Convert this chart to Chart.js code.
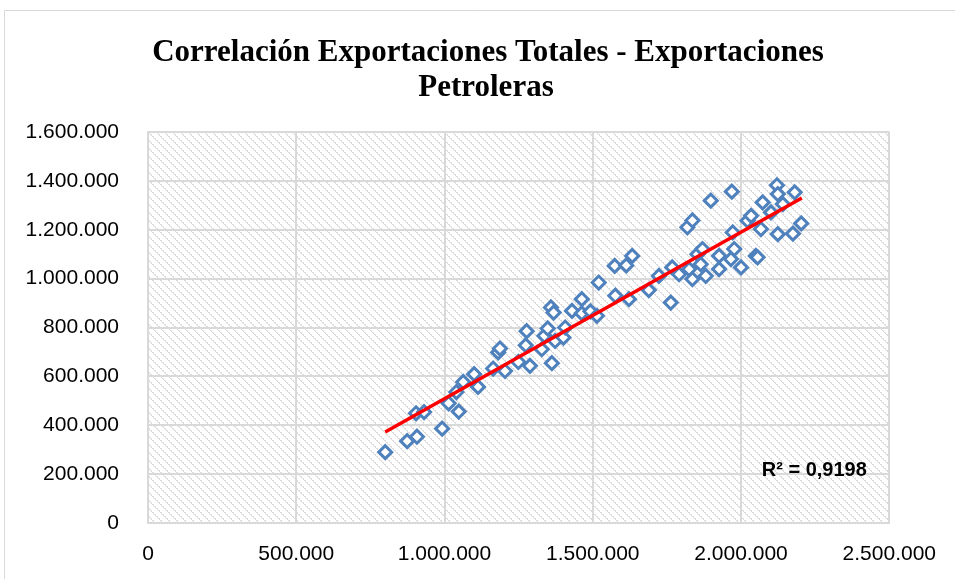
<!DOCTYPE html>
<html lang="es">
<head>
<meta charset="utf-8">
<title>Correlación Exportaciones Totales - Exportaciones Petroleras</title>
<script src="https://cdn.jsdelivr.net/npm/chart.js@4.4.1/dist/chart.umd.min.js"></script>
<style>
    html, body { margin: 0; padding: 0; background: #fff; overflow: hidden; }
    #wrap { position: absolute; left: 0; top: 0; width: 955px; height: 579px; }
</style>
</head>
<body>
<div id="wrap"><canvas id="chartCorr" width="955" height="579"></canvas></div>
<script>
// -------------------------------------------------------
// Data
// -------------------------------------------------------
const TITLE_LINES = ['Correlación Exportaciones Totales - Exportaciones', 'Petroleras'];
const R2_LABEL = 'R² = 0,9198';

// Exportaciones Totales (x)
const exportTotales = [
    800000, 874000, 907000, 992000, 904000, 931000, 1014000, 1048000, 1040000, 1063000,
    1100000, 1113000, 1164000, 1181000, 1187000, 1204000, 1249000, 1274000, 1277000, 1288000,
    1328000, 1337000, 1348000, 1359000, 1368000, 1362000, 1373000, 1401000, 1407000, 1430000,
    1463000, 1463000, 1492000, 1520000, 1514000, 1576000, 1574000, 1613000, 1633000, 1622000,
    1689000, 1723000, 1763000, 1768000, 1791000, 1819000, 1836000, 1825000, 1836000, 1853000,
    1864000, 1898000, 1969000, 1870000, 1926000, 1926000, 1881000, 1972000, 1977000, 1966000,
    2000000, 2022000, 2034000, 2050000, 2056000, 2067000, 2073000, 2101000, 2124000, 2121000,
    2124000, 2141000, 2181000, 2175000, 2203000
];

// Exportaciones Petroleras (y)
const exportPetroleras = [
    290000, 335000, 353000, 386000, 449000, 454000, 490000, 456000, 536000, 577000,
    609000, 557000, 632000, 698000, 714000, 622000, 659000, 727000, 785000, 643000,
    711000, 766000, 796000, 882000, 861000, 654000, 745000, 759000, 800000, 868000,
    916000, 858000, 866000, 984000, 848000, 930000, 1052000, 1054000, 1093000, 916000,
    953000, 1011000, 902000, 1046000, 1018000, 1210000, 1238000, 1039000, 998000, 1100000,
    1059000, 1319000, 1356000, 1121000, 1093000, 1039000, 1011000, 1189000, 1121000, 1080000,
    1046000, 1237000, 1257000, 1093000, 1087000, 1203000, 1312000, 1271000, 1182000, 1382000,
    1346000, 1305000, 1353000, 1184000, 1226000
];

// Linear trendline end points
const trendX = [800000, 2205000];
const trendY = [372000, 1330000];

// Axis ranges
const xAxis = { min: 0, max: 2500000, step: 500000 };
const yAxis = { min: 0, max: 1600000, step: 200000 };

// -------------------------------------------------------
// Helpers
// -------------------------------------------------------
const GRID = '#d9d9d9';
const fmt = v => String(Math.round(v)).replace(/\B(?=(\d{3})+(?!\d))/g, '.');

function hatchPattern(ctx) {
    const tile = document.createElement('canvas');
    tile.width = 8; tile.height = 8;
    const t = tile.getContext('2d');
    t.fillStyle = '#ffffff';
    t.fillRect(0, 0, 8, 8);
    t.fillStyle = '#dcdcdc';
    for (let y = 0; y < 8; y++) {
        for (let x = 0; x < 8; x++) {
            const d = (x - y + 16) % 8;
            if (d === 0 || (d === 1 && y % 2 === 0)) t.fillRect(x, y, 1, 1);
        }
    }
    return ctx.createPattern(tile, 'repeat');
}

// background, frame, title and R² label
const decorPlugin = {
    id: 'decor',
    beforeDraw(chart) {
        const { ctx, chartArea: a } = chart;
        ctx.save();
        ctx.fillStyle = '#fff';
        ctx.fillRect(0, 0, chart.width, chart.height);
        ctx.strokeStyle = GRID;
        ctx.lineWidth = 1;
        ctx.beginPath();
        ctx.moveTo(4.5, chart.height);
        ctx.lineTo(4.5, 10.5);
        ctx.lineTo(chart.width, 10.5);
        ctx.stroke();
        ctx.fillStyle = hatchPattern(ctx);
        ctx.fillRect(a.left, a.top, a.right - a.left, a.bottom - a.top);
        ctx.restore();
    },
    afterDraw(chart) {
        const { ctx, chartArea: a } = chart;
        ctx.save();
        ctx.fillStyle = '#000';
        ctx.textAlign = 'center';
        ctx.textBaseline = 'alphabetic';
        ctx.font = 'bold 31px "Liberation Serif", serif';
        ctx.fillText(TITLE_LINES[0], 488, 61);
        ctx.fillText(TITLE_LINES[1], 486, 96);
        ctx.font = 'bold 20px "Liberation Sans", Arial, sans-serif';
        ctx.textBaseline = 'middle';
        ctx.fillText(R2_LABEL, a.right - 75, 470);
        ctx.restore();
    }
};

// -------------------------------------------------------
// Chart
// -------------------------------------------------------
const points = exportTotales.map((x, i) => ({ x, y: exportPetroleras[i] }));
const trend = trendX.map((x, i) => ({ x, y: trendY[i] }));

const tickFont = { family: '"Liberation Sans", Arial, sans-serif', size: 21 };

new Chart(document.getElementById('chartCorr').getContext('2d'), {
    type: 'scatter',
    data: {
        datasets: [
            {
                label: 'Tendencia',
                data: trend,
                showLine: true,
                borderColor: '#ff0000',
                borderWidth: 3.5,
                pointRadius: 0,
                fill: false,
                order: 0
            },
            {
                label: 'Exportaciones',
                data: points,
                pointStyle: 'rectRot',
                pointRadius: 6.5,
                borderWidth: 3,
                borderColor: '#4f81bd',
                backgroundColor: '#ffffff',
                order: 1
            }
        ]
    },
    options: {
        responsive: false,
        animation: false,
        layout: { padding: { left: 0, right: 65, top: 132, bottom: 0 } },
        plugins: {
            legend: { display: false },
            title: { display: false },
            tooltip: { enabled: false }
        },
        scales: {
            x: {
                type: 'linear',
                min: xAxis.min, max: xAxis.max,
                afterFit: s => { s.height = 56; },
                grid: { color: GRID, lineWidth: 2, drawTicks: false },
                border: { color: GRID, width: 2 },
                ticks: {
                    stepSize: xAxis.step, padding: 19, color: '#000', font: tickFont,
                    maxRotation: 0, callback: v => fmt(v)
                }
            },
            y: {
                type: 'linear',
                min: yAxis.min, max: yAxis.max,
                afterFit: s => { s.width = 148; },
                grid: { color: GRID, lineWidth: 2, drawTicks: false },
                border: { color: GRID, width: 2 },
                ticks: {
                    stepSize: yAxis.step, padding: 29, color: '#000', font: tickFont,
                    callback: v => fmt(v)
                }
            }
        }
    },
    plugins: [decorPlugin]
});
</script>
</body>
</html>
